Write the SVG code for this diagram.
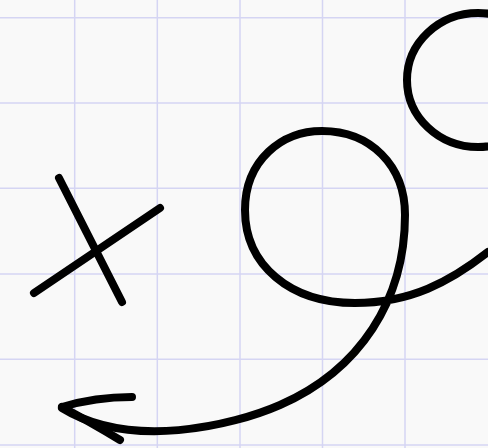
<svg xmlns="http://www.w3.org/2000/svg" width="488" height="448" viewBox="0 0 488 448">
  <style>
    .grid line { stroke: #d5d5f3; stroke-width: 1.5; }
    .ink { fill: none; stroke: #000; stroke-width: 8; stroke-linecap: round; stroke-linejoin: round; }
  </style>
  <rect width="488" height="448" fill="#f9f9f9"/>
  <g id="grid" class="grid">
    <line x1="74.7" y1="0" x2="74.7" y2="448"/>
    <line x1="157.3" y1="0" x2="157.3" y2="448"/>
    <line x1="240" y1="0" x2="240" y2="448"/>
    <line x1="322.5" y1="0" x2="322.5" y2="448"/>
    <line x1="405" y1="0" x2="405" y2="448"/>
    <line x1="0" y1="17.7" x2="488" y2="17.7"/>
    <line x1="0" y1="103" x2="488" y2="103"/>
    <line x1="0" y1="188.3" x2="488" y2="188.3"/>
    <line x1="0" y1="274" x2="488" y2="274"/>
    <line x1="0" y1="359.3" x2="488" y2="359.3"/>
    <line x1="0" y1="445" x2="488" y2="445"/>
  </g>
  <g id="cross">
    <line class="ink" x1="59" y1="178" x2="122" y2="302"/>
    <line class="ink" x1="34" y1="293" x2="160" y2="208"/>
  </g>
  <g id="circle">
    <ellipse class="ink" cx="478" cy="80" rx="71" ry="67"/>
  </g>
  <g id="loop-arrow">
    <path class="ink" d="M 488 252 C 450 282, 410 303, 355 303 C 290 303, 245 265, 245 210 C 245 160, 282 131, 322 131 C 370 131, 405 165, 405 215 C 405 300, 360 370, 280 405 C 232 426, 130 450, 62 408"/>
    <path class="ink" d="M 62 407 Q 95 397 132 397"/>
    <path class="ink" d="M 62 407 Q 90 422 120 440"/>
  </g>
</svg>
